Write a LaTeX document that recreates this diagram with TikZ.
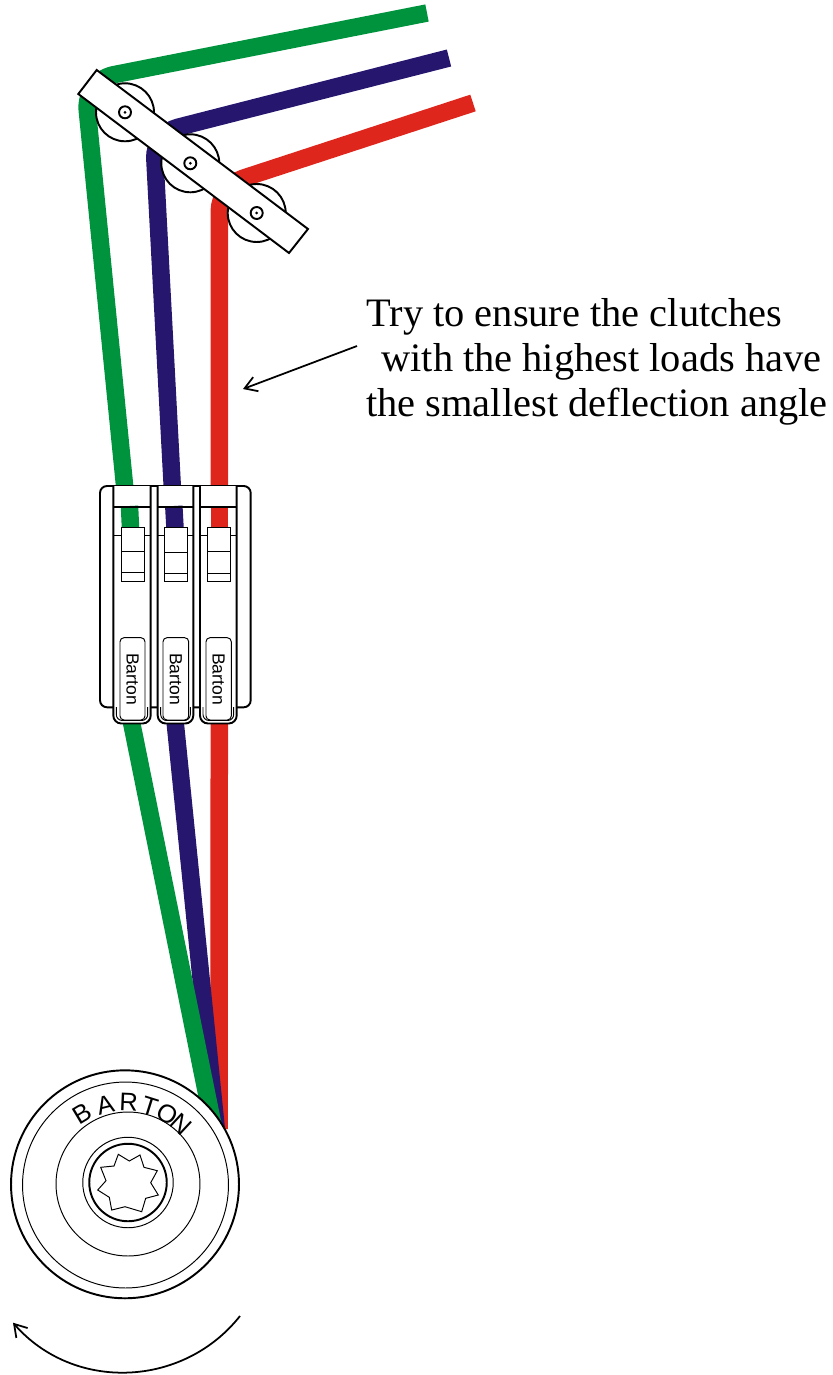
\documentclass[tikz,border=0pt]{standalone}
\usepackage{fontspec}
\setmainfont{Liberation Serif}
\setsansfont{Liberation Sans}
\usetikzlibrary{arrows.meta}
\definecolor{ropegreen}{RGB}{0,147,62}
\definecolor{ropeblue}{RGB}{38,22,110}
\definecolor{ropered}{RGB}{222,38,28}
\tikzset{
  rope/.style={line width=.35cm},
  thinline/.style={draw=black,line width=.55pt},
  heavyline/.style={draw=black,line width=1.1pt},
  barbtip/.style={-{Straight Barb[length=2.4mm,width=3mm]},line width=1pt},
  notetext/.style={anchor=base west,inner sep=0pt,font=\fontsize{23}{27}\selectfont},
  clutchtext/.style={inner sep=0pt,rotate=-90,font=\sffamily\fontsize{10}{12}\selectfont},
  winchtext/.style={inner sep=0pt,font=\sffamily\fontsize{14.5}{16}\selectfont}
}
\begin{document}
\begin{tikzpicture}[x=.02cm,y=-.02cm]
  \useasboundingbox (0,0) rectangle (832,1375);

  % ropes
  \draw[rope,ropered,rounded corners=.5cm] (473,103) -- (219.3,186) -- (219.3,500);
  \draw[rope,ropered] (219.3,700) -- (219,1129);
  \draw[rope,ropeblue,rounded corners=.5cm] (449,58) -- (153.5,133.5) -- (173,500);
  \draw[rope,ropeblue] (172.9,700) -- (216.4,1130);
  \draw[rope,ropegreen,rounded corners=.6cm] (427,13) -- (84.3,80.5) -- (126,500);
  \draw[rope,ropegreen] (127,700) -- (214,1130);

  % sheaves
  \begin{scope}[every node/.style={circle,heavyline,fill=white,inner sep=0pt,minimum size=1.16cm}]
    \node (sheave1) at (125,112.3) {};
    \node (sheave2) at (190.3,163.3) {};
    \node (sheave3) at (256.7,213) {};
  \end{scope}

  \draw[heavyline,fill=white] (96.7,70) -- (78.3,94) -- (289,253) -- (308,229) -- cycle;

  \begin{scope}[every node/.style={circle,heavyline,fill=white,inner sep=0pt,minimum size=.24cm}]
    \node (hub1) at (sheave1) {};
    \node (hub2) at (sheave2) {};
    \node (hub3) at (sheave3) {};
  \end{scope}
  \foreach \n in {1,2,3}
    \fill (hub\n) circle (1.5);

  % note
  \node[notetext] (note1) at (366,326) {Try to ensure the clutches};
  \node[notetext] (note2) at (381,371) {with the highest loads have};
  \node[notetext] (note3) at (366,416) {the smallest deflection angle};
  \coordinate (leaderstart) at (357,346);
  \coordinate (leaderend) at (243,389);
  \draw[barbtip] (leaderstart) -- (leaderend);

  % clutch bank
  \draw[heavyline,fill=white,rounded corners=.14cm] (100,486) rectangle (250.7,707.3);
  \foreach \x/\r/\cl/\cr/\bl/\br/\a/\b/\rc/\rx/\ry/\n in {
      113.3/150.7/121.7/144/120/145/551.7/572.3/ropegreen/129.5/130.5/1,
      157.7/193.3/164.3/187/163/188.7/552.3/573.3/ropeblue/173.8/175/2,
      200/236.7/207.3/230/206/231.3/551/573.3/ropered/219.3/219.3/3} {
    \draw[heavyline,fill=white,rounded corners=.16cm] (\x,486) -- (\x,723.5) -- (\r,723.5) -- (\r,486);
    \draw[thinline,rounded corners=.12cm] (\x+3,707) -- (\x+3,720.5) -- (\r-3,720.5) -- (\r-3,707);
    \draw[rope,\rc] (\rx,506) -- (\ry,528);
    \draw[heavyline] (\x,506.7) -- (\r,506.7);
    \draw[thinline] (\x,535) -- (\r,535);
    \draw[thinline,fill=white] (\cl,527.3) rectangle (\cr,581);
    \draw[thinline] (\cl,\a) -- (\cr,\a) (\cl,\b) -- (\cr,\b);
    \draw[thinline,rounded corners=.08cm] (\bl,637.7) rectangle (\br,720);
    \node[clutchtext] (label\n) at ({(\bl+\br)/2},679) {Barton};
  }

  % winch
  \begin{scope}[every node/.style={circle,fill=white,inner sep=0pt}]
    \node[heavyline,minimum size=4.56cm] (winch) at (125,1184.3) {};
    \node[thinline,minimum size=4.12cm] (winchrim) at (125.5,1185) {};
    \node[thinline,minimum size=2.88cm] (winchdrum) at (128,1184) {};
    \node[thinline,minimum size=1.81cm] (winchcollar) at (128,1182.5) {};
    \node[heavyline,minimum size=1.55cm] (winchcap) at (128,1182.5) {};
  \end{scope}
  \draw[thinline,line join=miter] (118.3,1154.3) -- (129.3,1161) -- (140,1155) -- (144,1167.3)
    -- (157.3,1170.7) -- (150.7,1182.7) -- (158.3,1195) -- (145.7,1198.3) -- (141.7,1211.7)
    -- (125,1206.7) -- (111.7,1210) -- (109.3,1197.3) -- (97.7,1190) -- (106,1180.7)
    -- (100.7,1167.3) -- (114,1166) -- cycle;
  \foreach \ltr/\ang in {B/-31,A/-14,R/2.5,T/17.5,O/31,N/43}
    \node[winchtext,rotate=-\ang] (letter\ltr) at ({125+82*sin(\ang)},{1184.3-82*cos(\ang)}) {\ltr};

  % rotation arrow
  \coordinate (turnstart) at (240,1316);
  \coordinate (turnend) at (13,1322.7);
  \draw[barbtip] (turnstart) .. controls (183,1388) and (73.6,1392) .. (turnend);
\end{tikzpicture}
\end{document}
